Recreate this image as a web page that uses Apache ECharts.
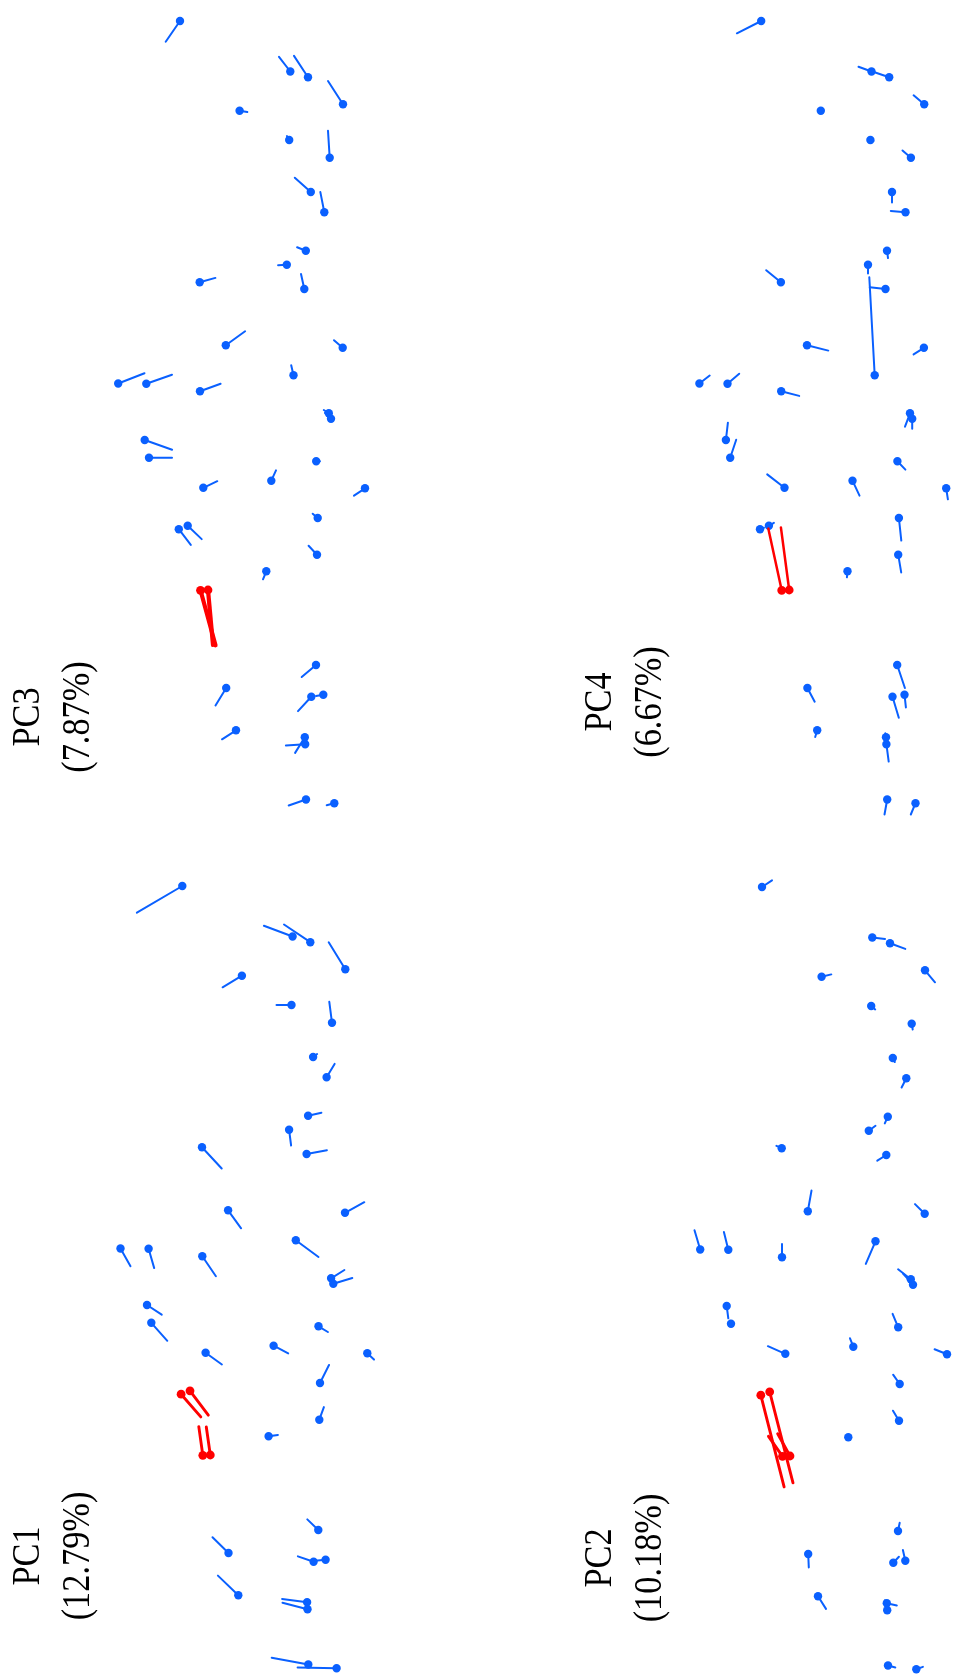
<!DOCTYPE html>
<html>
<head>
<meta charset="utf-8">
<script src="https://cdn.jsdelivr.net/npm/echarts@6/dist/echarts.min.js"></script>
<style>
  html, body { margin: 0; padding: 0; background: #ffffff; }
  #chart { width: 955px; height: 1679px; }
</style>
</head>
<body>
<div id="chart"></div>
<script>
// Mean landmark configuration (shared by every panel)
const landmarkX = [180, 290.3, 308, 343, 239.6, 289.2, 329.7, 310.8, 324.3, 305.8, 286.8, 304.3, 199.7, 225.8, 342.7, 293.5, 118.2, 146.3, 200, 328.8, 331, 144.7, 149, 316.2, 271.3, 203.3, 365, 317.7, 178.8, 187.7, 317, 266.3, 200.5, 208, 316, 226.2, 311.3, 323.3, 236, 304.8, 305.2, 306, 334.3];
const landmarkY = [21, 71.5, 77.2, 104.3, 110.7, 140, 157.8, 192, 212.2, 250.7, 264.8, 289, 282.2, 345.3, 347.8, 375.3, 383.5, 383.7, 391.2, 413.3, 418.7, 440, 457.8, 461.3, 480.7, 487.8, 488.3, 518, 529.2, 525.8, 554.7, 571.3, 590.3, 590, 665, 688, 696.7, 694.7, 730.3, 737.2, 744.2, 799.5, 803.2];

// Shape change vectors along each principal component
const pc1DX = [-45.4, -28.7, -26.3, -16.6, -19.3, -15, -2.7, 4, 8, 13.3, 2, 20.3, 19.7, 13, 19.3, 22.7, 10, 5.6, 13.6, 13.3, 19, 14.7, 16, 9.4, 14.6, 16.3, 6.7, 9, 19.7, 18.3, 4.6, 9.3, -4, -4, -11, -16, -15.7, -10.7, -20.4, -25, -25, -36.6, -39];
const pc1DY = [26.7, -10.7, -17.7, -27, 11.6, 0, -21, -3, -13.3, -3, 15.7, -3.7, 21.3, 18, -10.6, 16.7, 17.7, 19.4, 20, -8.3, -5.7, 9.6, 18, 5.7, 7.7, 11.7, 6.3, -18, 22.7, 24.3, -12.6, -1.4, -28.7, -28, -10.6, -15.7, -5.3, 1, -19.7, -3.3, -6.4, -6.7, -0.6];
const pc2DX = [10, 12.7, 15.3, 10, 9.7, 4, 1, 2, -4.7, -3, 6.7, -9, -5.3, 3.7, -9.7, -9.7, -5.7, -4.4, 0, -12.7, -10, 1.6, -1, -5.6, -3.3, -17.4, -12.4, -6.6, 23.3, 23.3, -6, 0, -14, -12.3, 1.7, 0.6, 5.6, -2.4, 8, 10, -2.3, 7.3, 6.6];
const pc2DY = [-6.6, 1.4, 5.7, 12, -2.3, 3.4, 5.7, 4, 9.3, 6.7, -5, 5.7, -2.3, -20.7, -9.7, 22.6, -19.3, -17.7, -13.3, -10, -11, 12.3, -3, -13.4, -8.4, -7.6, -5, -9.3, 91.7, 91, -10, 0, -20, -22.3, -8.3, 13.4, -6, -10.7, 12.6, 2.3, -10, 2, -2.3];
const pc3DX = [-14.3, -11.3, -14, -15, 7.7, -2.3, -1.7, -16, -4, -8.7, -8.7, -3.3, 15.7, 19.3, -8.7, -2.3, 26.3, 25.7, 20.6, -5, -6, 27.4, 23, 3.7, 4.7, 14, -11, -5, 12, 14, -8.4, -3.3, 15, 5, -14.3, -10.7, -13.3, -7.3, -14, -9.7, -19.3, -17.3, -7.6];
const pc3DY = [20.7, -14.6, -21.3, -23.3, 1.3, -4, -27, -14.3, -20.3, -3.4, 0.4, -15, -4.3, -14, -7.6, -10, -10.3, -9, -7.4, -3.3, -6, 9.7, 0, 0, -10.3, -6.6, 7.3, -4.3, 15.7, 13.3, -9, 8, 55, 55, 12, 17.4, 14.4, 1.4, 9, 15.7, 1.3, 6, 2];
const pc4DX = [-24.3, -13, -14.7, -10.6, 0, 3, -8.4, 0, -14.7, 1, 0, -15.7, -14.7, 21.3, -10.3, -5.4, 10.3, 11.7, 18, -5, 0, 2, 6, 8, 7, -17.3, 1.7, 2.4, 4, 5, 3, -0.6, -13.4, -8.3, 7.7, 7.3, 6.3, 1.4, -2, -0.7, 2.3, -2.7, -4.7];
const pc4DY = [12.3, -4.7, -5, -9, 0, 1, -7.3, 10.6, -1.3, 7.4, 8.7, -1.7, -12, 5.3, 6.6, -98, -8, -10, 4.7, 13.4, 10, -17.3, -18, 8.3, 15, -13.4, 11, 22.6, -1.3, -3, 17.7, 6, -61.7, -62.6, 23, 13.7, 21, 12.7, 6.7, -4, 17.4, 15, 11.3];

// Highlighted landmarks per component
const pc1Highlight = [28, 29, 32, 33];
const pc2Highlight = [28, 29, 32, 33];
const pc3Highlight = [32, 33];
const pc4Highlight = [32, 33];

// Panel titles
const panelNames = ['PC1', 'PC2', 'PC3', 'PC4'];
const panelVariance = ['(12.79%)', '(10.18%)', '(7.87%)', '(6.67%)'];

const BLUE = '#0a60ff';
const RED = '#ff0000';

// Coordinate window of every panel (landmark units map 1:1 to pixels)
const X_MAX = 370;
const Y_MAX = 810;

const panels = [
  { dx: pc3DX, dy: pc3DY, hi: pc3Highlight, left: 0, top: 0, label: 2, lx: 53.5, ly: 717, hiWidth: 4.2 },
  { dx: pc1DX, dy: pc1DY, hi: pc1Highlight, left: 2.3, top: 865, label: 0, lx: 53.5, ly: 1556, hiWidth: 2.9 },
  { dx: pc4DX, dy: pc4DY, hi: pc4Highlight, left: 581.2, top: 0, label: 3, lx: 626, ly: 702, hiWidth: 2.5 },
  { dx: pc2DX, dy: pc2DY, hi: pc2Highlight, left: 582, top: 866, label: 1, lx: 626, ly: 1558, hiWidth: 2.9 }
];

function buildData(p) {
  const rows = [];
  for (let i = 0; i < landmarkX.length; i++) {
    rows.push([landmarkX[i], landmarkY[i], p.dx[i], p.dy[i], p.hi.indexOf(i) >= 0 ? 1 : 0]);
  }
  // highlighted vectors are drawn last so they sit on top
  rows.sort((a, b) => a[4] - b[4]);
  return rows;
}

function makeRenderer(hiWidth) {
  return function (params, api) {
    const x = api.value(0), y = api.value(1);
    const p0 = api.coord([x, y]);
    const p1 = api.coord([x + api.value(2), y + api.value(3)]);
    const hi = api.value(4) === 1;
    const col = hi ? RED : BLUE;
    return {
      type: 'group',
      children: [
        { type: 'line', shape: { x1: p0[0], y1: p0[1], x2: p1[0], y2: p1[1] },
          style: { stroke: col, lineWidth: hi ? hiWidth : 2, lineCap: 'round' } },
        { type: 'circle', shape: { cx: p0[0], cy: p0[1], r: hi ? 4.4 : 4.2 },
          style: { fill: col } }
      ]
    };
  };
}

const grids = [], xAxes = [], yAxes = [], series = [], graphics = [];
panels.forEach((p, k) => {
  grids.push({ left: p.left, top: p.top, width: X_MAX, height: Y_MAX, containLabel: false });
  xAxes.push({ type: 'value', gridIndex: k, min: 0, max: X_MAX, show: false });
  yAxes.push({ type: 'value', gridIndex: k, min: 0, max: Y_MAX, inverse: true, show: false });
  series.push({
    type: 'custom', xAxisIndex: k, yAxisIndex: k, clip: false,
    renderItem: makeRenderer(p.hiWidth), data: buildData(p), silent: true
  });
  graphics.push({
    type: 'text', x: p.lx, y: p.ly, rotation: Math.PI / 2, scaleX: 0.88, scaleY: 1,
    style: {
      text: panelNames[p.label] + '\n' + panelVariance[p.label],
      fill: '#000', font: '39px "Liberation Serif"', lineHeight: 50,
      align: 'center', verticalAlign: 'middle'
    }
  });
});

const chart = echarts.init(document.getElementById('chart'), null, { renderer: 'canvas' });
chart.setOption({
  animation: false,
  backgroundColor: '#ffffff',
  grid: grids,
  xAxis: xAxes,
  yAxis: yAxes,
  series: series,
  graphic: graphics
});
</script>
</body>
</html>
